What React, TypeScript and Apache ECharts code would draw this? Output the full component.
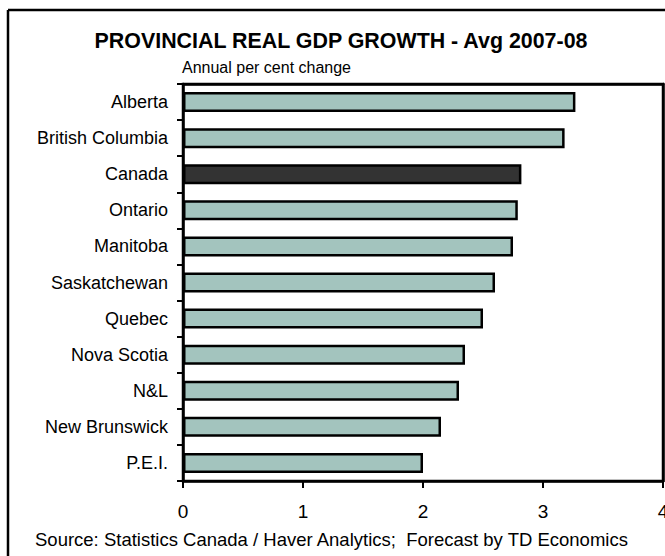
import React, { useEffect, useRef } from "react";
import * as echarts from "echarts";

const categories = [
  "Alberta",
  "British Columbia",
  "Canada",
  "Ontario",
  "Manitoba",
  "Saskatchewan",
  "Quebec",
  "Nova Scotia",
  "N&L",
  "New Brunswick",
  "P.E.I.",
];
const growth = [3.27, 3.18, 2.82, 2.79, 2.75, 2.6, 2.5, 2.35, 2.3, 2.15, 2.0];
const xTicks = [0, 1, 2, 3, 4];
const highlight = "Canada";

const title = "PROVINCIAL REAL GDP GROWTH - Avg 2007-08";
const subtitle = "Annual per cent change";
const source = "Source: Statistics Canada / Haver Analytics;  Forecast by TD Economics";

export default function App() {
  const ref = useRef<HTMLDivElement>(null);
  useEffect(() => {
    if (!ref.current) return;
    const chart = echarts.init(ref.current, null, { renderer: "svg" });
    const font = "Liberation Sans, Arial, sans-serif";
    const frameLine = { show: true, onZero: false, lineStyle: { color: "#000", width: 2.5 } };
    chart.setOption({
      animation: false,
      textStyle: { fontFamily: font },
      grid: {
        left: 183,
        right: 2,
        top: 84,
        bottom: 75,
        outerBoundsMode: "none",
        show: true,
        borderColor: "#000",
        borderWidth: 2.5,
      },
      xAxis: [
        {
          type: "value",
          position: "bottom",
          min: xTicks[0],
          max: xTicks[xTicks.length - 1],
          interval: 1,
          splitLine: { show: false },
          axisLine: frameLine,
          axisTick: { show: true, length: 7, lineStyle: { color: "#000", width: 2 } },
          axisLabel: { color: "#000", fontSize: 19, margin: 21, fontFamily: font },
        },
        {
          type: "value",
          position: "top",
          min: xTicks[0],
          max: xTicks[xTicks.length - 1],
          interval: 1,
          splitLine: { show: false },
          axisLine: frameLine,
          axisTick: { show: false },
          axisLabel: { show: false },
        },
      ],
      yAxis: [
        {
          type: "category",
          position: "left",
          inverse: true,
          data: categories,
          axisLine: frameLine,
          axisTick: { show: true, length: 6, alignWithLabel: false, lineStyle: { color: "#000", width: 2 } },
          axisLabel: { color: "#000", fontSize: 18, margin: 15, fontFamily: font },
          splitLine: { show: false },
        },
        {
          type: "category",
          position: "right",
          inverse: true,
          data: categories,
          axisLine: frameLine,
          axisTick: { show: false },
          axisLabel: { show: false },
          splitLine: { show: false },
        },
      ],
      series: [
        {
          type: "bar",
          xAxisIndex: 0,
          yAxisIndex: 0,
          data: growth.map((v, i) => ({
            value: v,
            itemStyle: {
              color: categories[i] === highlight ? "#333333" : "#A3C4BE",
            },
          })),
          barWidth: 20,
          itemStyle: { borderColor: "#000", borderWidth: 2.5 },
        },
      ],
      title: [
        {
          text: title,
          left: 336,
          top: 36,
          textAlign: "center",
          textVerticalAlign: "middle",
          textStyle: { fontSize: 21.4, fontWeight: "bold", color: "#000", fontFamily: font },
        },
      ],
      graphic: [
        {
          type: "line",
          shape: { x1: 8, y1: 10, x2: 665, y2: 10 },
          style: { stroke: "#000", lineWidth: 2.5 },
        },
        {
          type: "line",
          shape: { x1: 8, y1: 10, x2: 8, y2: 556 },
          style: { stroke: "#000", lineWidth: 2.5 },
        },
        {
          type: "text",
          x: 182,
          y: 67,
          style: {
            text: subtitle,
            fontSize: 16,
            fontFamily: font,
            fill: "#000",
            align: "left",
            verticalAlign: "middle",
          },
        },
        {
          type: "text",
          x: 35,
          y: 539,
          style: {
            text: source,
            fontSize: 18.5,
            fontFamily: font,
            fill: "#000",
            align: "left",
            verticalAlign: "middle",
          },
        },
      ],
    });
    return () => chart.dispose();
  }, []);
  return (
    <div
      ref={ref}
      style={{ position: "absolute", left: 0, top: 0, width: 665, height: 556, background: "#fff" }}
    />
  );
}
